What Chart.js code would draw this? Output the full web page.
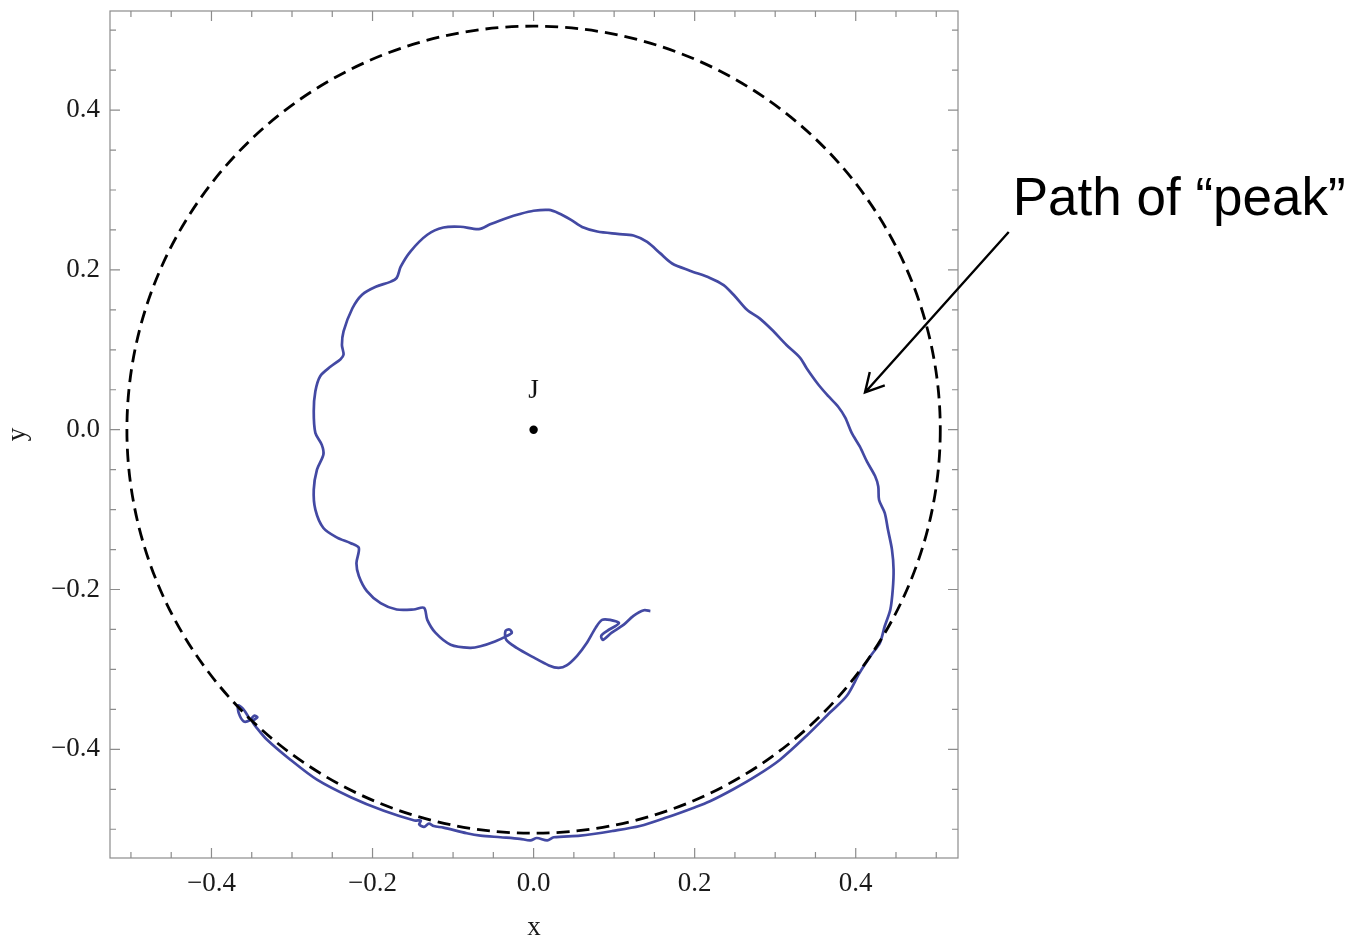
<!DOCTYPE html>
<html lang="en">
<head>
    <meta charset="UTF-8">
    <title>Path of peak</title>
    <script src="https://cdn.jsdelivr.net/npm/chart.js@4.4.1/dist/chart.umd.min.js"></script>
    <style>
        body { margin: 0; padding: 0; background: #ffffff; }
        canvas { display: block; }
    </style>
</head>
<body>
    <canvas id="peakChart" width="1350" height="937"></canvas>
    <script>
        // traced path of the "peak" (inner end first, spiralling outwards)
        const peakX = [0.145, 0.137, 0.124, 0.112, 0.097, 0.086, 0.084, 0.091, 0.106, 0.095,
            0.085, 0.077, 0.066, 0.054, 0.041, 0.031, 0.019, 0.000, -0.021, -0.034,
            -0.035, -0.030, -0.027, -0.033, -0.048, -0.066, -0.079, -0.103, -0.122, -0.132,
            -0.136, -0.149, -0.170, -0.190, -0.207, -0.217, -0.220, -0.217, -0.227, -0.244,
            -0.261, -0.271, -0.273, -0.269, -0.261, -0.263, -0.271, -0.273, -0.271, -0.265,
            -0.252, -0.240, -0.236, -0.238, -0.236, -0.225, -0.213, -0.196, -0.178, -0.170,
            -0.165, -0.153, -0.132, -0.112, -0.091, -0.068, -0.054, -0.033, -0.017, 0.000,
            0.019, 0.031, 0.046, 0.062, 0.079, 0.104, 0.124, 0.141, 0.157, 0.172,
            0.194, 0.219, 0.236, 0.250, 0.265, 0.281, 0.296, 0.314, 0.331, 0.339,
            0.354, 0.366, 0.378, 0.387, 0.395, 0.405, 0.414, 0.424, 0.428, 0.429,
            0.436, 0.440, 0.445, 0.447, 0.446, 0.443, 0.436, 0.430, 0.420, 0.405,
            0.389, 0.368, 0.339, 0.306, 0.277, 0.248, 0.219, 0.199, 0.166, 0.132,
            0.099, 0.058, 0.025, 0.017, 0.004, -0.004, -0.017, -0.041, -0.066, -0.083,
            -0.112, -0.124, -0.130, -0.136, -0.142, -0.140, -0.148, -0.186, -0.227, -0.269,
            -0.302, -0.331, -0.343, -0.349, -0.343, -0.347, -0.353, -0.360, -0.366, -0.367,
            -0.361, -0.355, -0.352];
        const peakY = [-0.227, -0.226, -0.233, -0.244, -0.254, -0.263, -0.258, -0.252, -0.242, -0.238,
            -0.238, -0.248, -0.267, -0.283, -0.295, -0.298, -0.295, -0.285, -0.273, -0.263,
            -0.252, -0.250, -0.254, -0.258, -0.265, -0.271, -0.273, -0.269, -0.254, -0.238,
            -0.223, -0.225, -0.225, -0.217, -0.202, -0.183, -0.167, -0.148, -0.142, -0.135,
            -0.123, -0.100, -0.075, -0.050, -0.031, -0.019, -0.004, 0.023, 0.048, 0.067,
            0.079, 0.088, 0.094, 0.106, 0.123, 0.152, 0.169, 0.179, 0.185, 0.190,
            0.204, 0.223, 0.244, 0.253, 0.254, 0.251, 0.257, 0.265, 0.270, 0.274,
            0.275, 0.271, 0.263, 0.253, 0.248, 0.245, 0.243, 0.235, 0.221, 0.208,
            0.199, 0.190, 0.181, 0.167, 0.150, 0.139, 0.125, 0.106, 0.090, 0.077,
            0.056, 0.042, 0.029, 0.015, -0.004, -0.021, -0.040, -0.058, -0.071, -0.088,
            -0.104, -0.125, -0.150, -0.175, -0.200, -0.225, -0.246, -0.267, -0.281, -0.304,
            -0.333, -0.354, -0.383, -0.413, -0.433, -0.450, -0.465, -0.473, -0.485, -0.496,
            -0.502, -0.508, -0.510, -0.514, -0.511, -0.514, -0.512, -0.510, -0.508, -0.505,
            -0.498, -0.496, -0.493, -0.497, -0.494, -0.489, -0.489, -0.477, -0.460, -0.438,
            -0.413, -0.388, -0.374, -0.365, -0.360, -0.358, -0.364, -0.365, -0.355, -0.345,
            -0.349, -0.358, -0.365];

        const centreJ = { x: 0, y: 0 };
        const circleRadius = 0.505;

        const majorTicks = [-0.4, -0.2, 0.0, 0.2, 0.4];
        const minorTicks = [-0.5, -0.45, -0.35, -0.3, -0.25, -0.15, -0.1, -0.05,
            0.05, 0.1, 0.15, 0.25, 0.3, 0.35, 0.45, 0.5];

        // arrow + text annotation, in data units
        const arrowFrom = { x: 0.590, y: 0.2475 };
        const arrowTo = { x: 0.4115, y: 0.0466 };
        const noteText = 'Path of \u201Cpeak\u201D';
        const notePos = { x: 0.595, y: 0.2685 };

        const serif = "'Liberation Serif', 'DejaVu Serif', serif";

        function fmtTick(v) {
            const s = Math.abs(v).toFixed(1);
            return v < -1e-9 ? '\u2212' + s : s;
        }

        const framePlugin = {
            id: 'frame',
            afterDatasetsDraw(chart) {
                const { ctx, chartArea: a, scales: { x, y } } = chart;
                ctx.save();

                // dashed circle
                const cx = x.getPixelForValue(centreJ.x);
                const cy = y.getPixelForValue(centreJ.y);
                const rx = Math.abs(x.getPixelForValue(circleRadius) - cx);
                const ry = Math.abs(y.getPixelForValue(circleRadius) - cy);
                ctx.beginPath();
                ctx.rect(a.left, a.top, a.right - a.left, a.bottom - a.top);
                ctx.clip();
                ctx.beginPath();
                ctx.setLineDash([13, 7]);
                ctx.lineWidth = 2.8;
                ctx.strokeStyle = '#000';
                ctx.ellipse(cx, cy, rx, ry, 0, 0, Math.PI * 2);
                ctx.stroke();
                ctx.restore();

                ctx.save();
                // frame
                ctx.strokeStyle = '#8c8c8c';
                ctx.lineWidth = 1.2;
                ctx.strokeRect(a.left, a.top, a.right - a.left, a.bottom - a.top);

                // inward ticks on all four sides
                ctx.beginPath();
                const tick = (vals, len) => {
                    vals.forEach(v => {
                        const px = x.getPixelForValue(v);
                        ctx.moveTo(px, a.bottom); ctx.lineTo(px, a.bottom - len);
                        ctx.moveTo(px, a.top); ctx.lineTo(px, a.top + len);
                        const py = y.getPixelForValue(v);
                        ctx.moveTo(a.left, py); ctx.lineTo(a.left + len, py);
                        ctx.moveTo(a.right, py); ctx.lineTo(a.right - len, py);
                    });
                };
                tick(majorTicks, 10);
                tick(minorTicks, 6);
                ctx.stroke();

                // J label
                ctx.fillStyle = '#111';
                ctx.font = '27px ' + serif;
                ctx.textAlign = 'center';
                ctx.textBaseline = 'middle';
                ctx.fillText('J', x.getPixelForValue(centreJ.x), y.getPixelForValue(0.048));

                // arrow
                const x0 = x.getPixelForValue(arrowFrom.x), y0 = y.getPixelForValue(arrowFrom.y);
                const x1 = x.getPixelForValue(arrowTo.x), y1 = y.getPixelForValue(arrowTo.y);
                const ang = Math.atan2(y1 - y0, x1 - x0);
                ctx.strokeStyle = '#000';
                ctx.lineWidth = 2.4;
                ctx.beginPath();
                ctx.moveTo(x0, y0);
                ctx.lineTo(x1, y1);
                ctx.moveTo(x1 - 21 * Math.cos(ang - 0.5), y1 - 21 * Math.sin(ang - 0.5));
                ctx.lineTo(x1, y1);
                ctx.lineTo(x1 - 21 * Math.cos(ang + 0.5), y1 - 21 * Math.sin(ang + 0.5));
                ctx.stroke();

                // annotation text
                ctx.fillStyle = '#000';
                ctx.font = "53px 'Liberation Sans', Arial, sans-serif";
                ctx.textAlign = 'left';
                ctx.textBaseline = 'alphabetic';
                ctx.fillText(noteText, x.getPixelForValue(notePos.x), y.getPixelForValue(notePos.y));
                ctx.restore();
            }
        };

        const ctx = document.getElementById('peakChart').getContext('2d');
        const peakChart = new Chart(ctx, {
            type: 'scatter',
            data: {
                datasets: [{
                    label: 'peak path',
                    data: peakX.map((v, i) => ({ x: v, y: peakY[i] })),
                    showLine: true,
                    borderColor: '#4349a3',
                    borderWidth: 2.7,
                    pointRadius: 0,
                    tension: 0.3
                }, {
                    label: 'J',
                    data: [centreJ],
                    pointRadius: 4.2,
                    pointBackgroundColor: '#000',
                    pointBorderWidth: 0
                }]
            },
            options: {
                responsive: false,
                animation: false,
                layout: { padding: { top: 11, right: 392, bottom: 0, left: 0 } },
                plugins: { legend: { display: false }, tooltip: { enabled: false } },
                scales: {
                    x: {
                        type: 'linear',
                        min: -0.526,
                        max: 0.527,
                        grid: { display: false, drawTicks: false },
                        border: { display: false },
                        afterFit(scale) {
                            scale.height = 79;
                            scale.paddingLeft = 0;
                            scale.paddingRight = 0;
                        },
                        afterBuildTicks(scale) { scale.ticks = majorTicks.map(v => ({ value: v })); },
                        ticks: {
                            padding: 10,
                            color: '#1a1a1a',
                            font: { family: serif, size: 27 },
                            callback: v => fmtTick(v)
                        },
                        title: {
                            display: true,
                            text: 'x',
                            color: '#1a1a1a',
                            font: { family: serif, size: 27, lineHeight: 1 },
                            padding: { top: 0, bottom: -4 }
                        }
                    },
                    y: {
                        type: 'linear',
                        min: -0.536,
                        max: 0.524,
                        grid: { display: false, drawTicks: false },
                        border: { display: false },
                        afterFit(scale) {
                            scale.width = 110;
                            scale.paddingTop = 0;
                            scale.paddingBottom = 0;
                        },
                        afterBuildTicks(scale) { scale.ticks = majorTicks.map(v => ({ value: v })); },
                        ticks: {
                            padding: 10,
                            color: '#1a1a1a',
                            font: { family: serif, size: 27 },
                            callback: v => fmtTick(v)
                        },
                        title: {
                            display: true,
                            text: 'y',
                            color: '#1a1a1a',
                            font: { family: serif, size: 27, lineHeight: 1 },
                            padding: { top: 4, bottom: 0 }
                        }
                    }
                }
            },
            plugins: [framePlugin]
        });
    </script>
</body>
</html>
